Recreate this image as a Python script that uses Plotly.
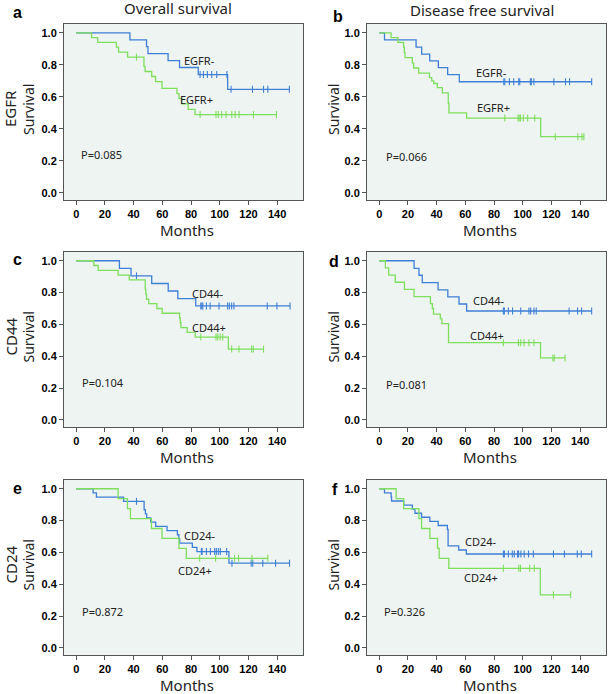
import plotly.graph_objects as go

W, H = 609, 694

# ---------------- data (event times -> survival after event; censor times; last follow-up) ----------------
# a: EGFR, overall survival
a_neg_t = [37.4, 49.0, 50.0, 64.0, 72.0, 85.0, 105.5]
a_neg_s = [0.956, 0.913, 0.870, 0.826, 0.783, 0.739, 0.647]
a_neg_c = [86.3, 88.6, 91.4, 94.4, 97.9, 105.0, 107.9, 122.8, 130.5, 133.5, 148.5]
a_pos_t = [10.7, 15.0, 28.0, 29.5, 35.8, 47.2, 48.0, 52.6, 55.3, 59.8, 70.2, 71.6, 73.5, 78.0, 82.8]
a_pos_s = [0.970, 0.940, 0.910, 0.879, 0.848, 0.790, 0.758, 0.727, 0.695, 0.653, 0.620, 0.588, 0.556, 0.522, 0.489]
a_pos_c = [42.0, 86.3, 97.4, 99.0, 101.4, 104.4, 108.4, 110.7, 113.5, 123.5, 139.5]

# b: EGFR, disease free survival
b_neg_t = [3.7, 25.7, 29.6, 35.2, 41.2, 47.7, 55.8]
b_neg_s = [0.956, 0.911, 0.867, 0.825, 0.782, 0.738, 0.694]
b_neg_c = [86.8, 87.5, 90.7, 93.7, 97.2, 97.9, 105.3, 106.0, 107.8, 121.7, 129.8, 132.6, 148.0]
b_pos_t = [8.3, 13.0, 17.0, 17.5, 18.0, 23.1, 24.0, 27.5, 35.0, 36.6, 38.0, 40.5, 44.0, 48.1, 48.6, 60.9, 112.5]
b_pos_s = [0.970, 0.940, 0.910, 0.876, 0.845, 0.810, 0.780, 0.748, 0.720, 0.700, 0.683, 0.657, 0.625, 0.560, 0.500, 0.467, 0.351]
b_pos_c = [87.5, 96.7, 97.5, 98.4, 100.4, 103.4, 108.3, 122.7, 138.4, 141.2, 142.6]

# c: CD44, overall survival
c_neg_t = [30.1, 38.2, 52.6, 64.1, 70.8, 83.3]
c_neg_s = [0.952, 0.905, 0.857, 0.810, 0.762, 0.716]
c_neg_c = [42.0, 86.8, 87.5, 88.2, 90.7, 93.3, 99.5, 105.5, 106.7, 108.3, 109.9, 133.1, 139.8, 149.0]
c_pos_t = [12.3, 15.3, 29.2, 37.0, 48.1, 48.5, 49.0, 50.5, 56.2, 59.9, 72.0, 72.5, 73.0, 77.3, 82.9, 106.0]
c_pos_s = [0.970, 0.940, 0.910, 0.880, 0.820, 0.790, 0.758, 0.730, 0.700, 0.670, 0.640, 0.610, 0.580, 0.550, 0.520, 0.445]
c_pos_c = [86.8, 97.4, 98.6, 100.3, 102.1, 108.3, 113.4, 122.2, 123.4, 130.5]

# d: CD44, disease free survival
d_neg_t = [24.3, 27.7, 30.0, 41.0, 47.8, 55.6, 60.9]
d_neg_s = [0.952, 0.909, 0.863, 0.817, 0.773, 0.728, 0.684]
d_neg_c = [86.5, 87.2, 90.0, 92.9, 98.6, 104.3, 105.5, 107.8, 109.4, 132.3, 138.2, 141.0, 148.0]
d_pos_t = [4.3, 6.6, 11.2, 17.6, 24.3, 35.7, 37.0, 37.8, 42.6, 43.7, 48.3, 112.4]
d_pos_s = [0.955, 0.910, 0.865, 0.820, 0.775, 0.730, 0.700, 0.665, 0.635, 0.605, 0.485, 0.389]
d_pos_c = [86.5, 97.0, 98.6, 100.9, 104.3, 107.8, 121.0, 122.0, 129.5]

# e: CD24, overall survival
e_neg_t = [11.8, 14.1, 33.0, 47.3, 48.2, 49.1, 51.9, 55.4, 63.3, 70.5, 71.5, 72.1, 80.9, 84.1, 106.4]
e_neg_s = [0.974, 0.947, 0.921, 0.868, 0.842, 0.816, 0.790, 0.763, 0.737, 0.711, 0.684, 0.658, 0.632, 0.605, 0.532]
e_neg_c = [42.0, 87.2, 87.7, 90.7, 93.5, 96.5, 97.6, 99.0, 100.4, 104.8, 108.5, 121.9, 123.0, 130.0, 138.9, 148.6]
e_pos_t = [29.2, 35.7, 37.8, 52.4, 59.8, 71.6, 76.7]
e_pos_s = [0.9375, 0.875, 0.8125, 0.75, 0.6875, 0.625, 0.5625]
e_pos_c = [86.0, 97.1, 110.3, 113.1, 122.4, 133.5]

# f: CD24, disease free survival
f_neg_t = [3.7, 8.3, 8.6, 17.1, 23.1, 24.9, 29.5, 35.3, 41.1, 47.5, 48.0, 55.4, 60.7]
f_neg_s = [0.974, 0.949, 0.923, 0.897, 0.872, 0.846, 0.821, 0.795, 0.769, 0.744, 0.641, 0.615, 0.590]
f_neg_c = [86.5, 87.2, 90.0, 92.7, 94.1, 96.4, 97.1, 98.7, 101.0, 104.0, 107.4, 121.4, 129.0, 138.0, 140.8, 148.0]
f_pos_t = [11.8, 17.0, 27.7, 29.5, 35.3, 40.6, 41.8, 48.5, 112.2]
f_pos_s = [0.9375, 0.875, 0.8125, 0.75, 0.6875, 0.625, 0.5625, 0.5, 0.333]
f_pos_c = [86.5, 97.2, 98.4, 104.8, 108.0, 121.4, 133.4]

letters = ["a", "b", "c", "d", "e", "f"]
markers = ["EGFR", "EGFR", "CD44", "CD44", "CD24", "CD24"]
p_values = ["P=0.085", "P=0.066", "P=0.104", "P=0.081", "P=0.872", "P=0.326"]
col_titles = ["Overall survival", "Disease free survival"]
x_ticks = [0, 20, 40, 60, 80, 100, 120, 140]
y_ticks = [0.0, 0.2, 0.4, 0.6, 0.8, 1.0]

curves = [
    (a_neg_t, a_neg_s, a_neg_c, a_pos_t, a_pos_s, a_pos_c),
    (b_neg_t, b_neg_s, b_neg_c, b_pos_t, b_pos_s, b_pos_c),
    (c_neg_t, c_neg_s, c_neg_c, c_pos_t, c_pos_s, c_pos_c),
    (d_neg_t, d_neg_s, d_neg_c, d_pos_t, d_pos_s, d_pos_c),
    (e_neg_t, e_neg_s, e_neg_c, e_pos_t, e_pos_s, e_pos_c),
    (f_neg_t, f_neg_s, f_neg_c, f_pos_t, f_pos_s, f_pos_c),
]

# label positions (data coords): neg label, pos label, p-value
label_pos = [
    ((85.6, 0.828), (84.0, 0.586), (17.7, 0.237)),
    ((78.2, 0.753), (79.4, 0.531), (19.2, 0.230)),
    ((92.1, 0.796), (92.6, 0.580), (18.5, 0.237)),
    ((76.4, 0.749), (75.0, 0.530), (19.0, 0.221)),
    ((86.0, 0.707), (82.5, 0.489), (18.1, 0.226)),
    ((70.8, 0.667), (70.8, 0.445), (17.5, 0.231)),
]

BLUE = "#3f7fd6"
GREEN = "#7fde5e"
BG = "#eef4f1"
FONT = "Noto Sans"

# ---------------- layout geometry (pixels) ----------------
cols_px = [(64, 303), (367, 606)]
rows_px = [(24, 200), (252, 427), (480, 655)]


def px(x):
    return x / W


def py(y):
    return 1 - y / H


def surv_at(t, times, surv):
    s = 1.0
    for ti, si in zip(times, surv):
        if ti <= t:
            s = si
    return s


def note(x, y, text, size, family=FONT, angle=0, color="#222", xref="paper", yref="paper"):
    return dict(x=x, y=y, xref=xref, yref=yref, text=text, showarrow=False, textangle=angle,
                xanchor="center", yanchor="middle", font=dict(family=family, size=size, color=color))


fig = go.Figure()
annotations = []

for i in range(6):
    r, c = divmod(i, 2)
    ax = "" if i == 0 else str(i + 1)
    xa, ya = "x" + ax, "y" + ax
    nt, ns, nc, pt, ps, pc = curves[i]
    for times, surv, cens, color in ((nt, ns, nc, BLUE), (pt, ps, pc, GREEN)):
        end = max(cens + times)
        xs = [0] + list(times) + [end]
        ys = [1.0] + list(surv) + [surv[-1]]
        fig.add_trace(go.Scatter(x=xs, y=ys, mode="lines", line=dict(color=color, width=1.3, shape="hv"),
                                 xaxis=xa, yaxis=ya, showlegend=False, hoverinfo="skip"))
        fig.add_trace(go.Scatter(x=cens, y=[surv_at(t, times, surv) for t in cens], mode="markers",
                                 marker=dict(symbol="line-ns", size=5, line=dict(color=color, width=1.1)),
                                 xaxis=xa, yaxis=ya, showlegend=False, hoverinfo="skip"))

    x0, x1 = cols_px[c]
    y0, y1 = rows_px[r]
    axis_common = dict(showline=True, mirror=True, linecolor="#555", linewidth=1, ticks="outside",
                       ticklen=4, tickcolor="#555", showgrid=False, zeroline=False,
                       tickfont=dict(family="Liberation Sans", size=11, color="black", weight="bold"))
    fig.layout["xaxis" + ax] = dict(domain=[px(x0), px(x1)], range=[-8.5, 158], anchor=ya,
                                    tickvals=x_ticks, ticktext=[str(v) for v in x_ticks], **axis_common)
    fig.layout["yaxis" + ax] = dict(domain=[py(y1), py(y0)], range=[-0.045, 1.055], anchor=xa,
                                    tickvals=y_ticks, ticktext=["%.1f" % v for v in y_ticks], **axis_common)

    lab = markers[i]
    (nx, ny), (qx, qy), (pvx, pvy) = label_pos[i]
    for tx, ty, txt in ((nx, ny, lab + "-"), (qx, qy, lab + "+"), (pvx, pvy, p_values[i])):
        annotations.append(note(tx, ty, txt, 11, xref=xa, yref=ya))

    # axis titles
    annotations.append(note(px((x0 + x1) / 2 + 3), py(y1 + 30), "Months", 15))
    sx = 28 if c == 0 else 333
    annotations.append(note(px(sx), py((y0 + y1) / 2 - 2), "Survival", 14, angle=-90))
    if c == 0:
        annotations.append(note(px(10), py((y0 + y1) / 2 - 3), lab, 15, angle=-90))

# panel letters
letter_px = [(17, 13), (338, 17), (17, 259), (334, 261), (17, 488), (335, 490)]
for L, (lx, ly) in zip(letters, letter_px):
    annotations.append(note(px(lx), py(ly), "<b>%s</b>" % L, 16, family="Liberation Sans", color="black"))

# column titles
for t, (tx, ty) in zip(col_titles, [(178, 8), (482, 10)]):
    annotations.append(note(px(tx), py(ty), t, 15))

fig.update_layout(width=W, height=H, margin=dict(l=0, r=0, t=0, b=0), paper_bgcolor="white",
                  plot_bgcolor=BG, annotations=annotations, showlegend=False)

fig.write_html("out.html", config={"displayModeBar": False},
               post_script="document.body.style.margin='0';document.body.style.padding='0';"
                           "document.documentElement.style.overflow='hidden';")
